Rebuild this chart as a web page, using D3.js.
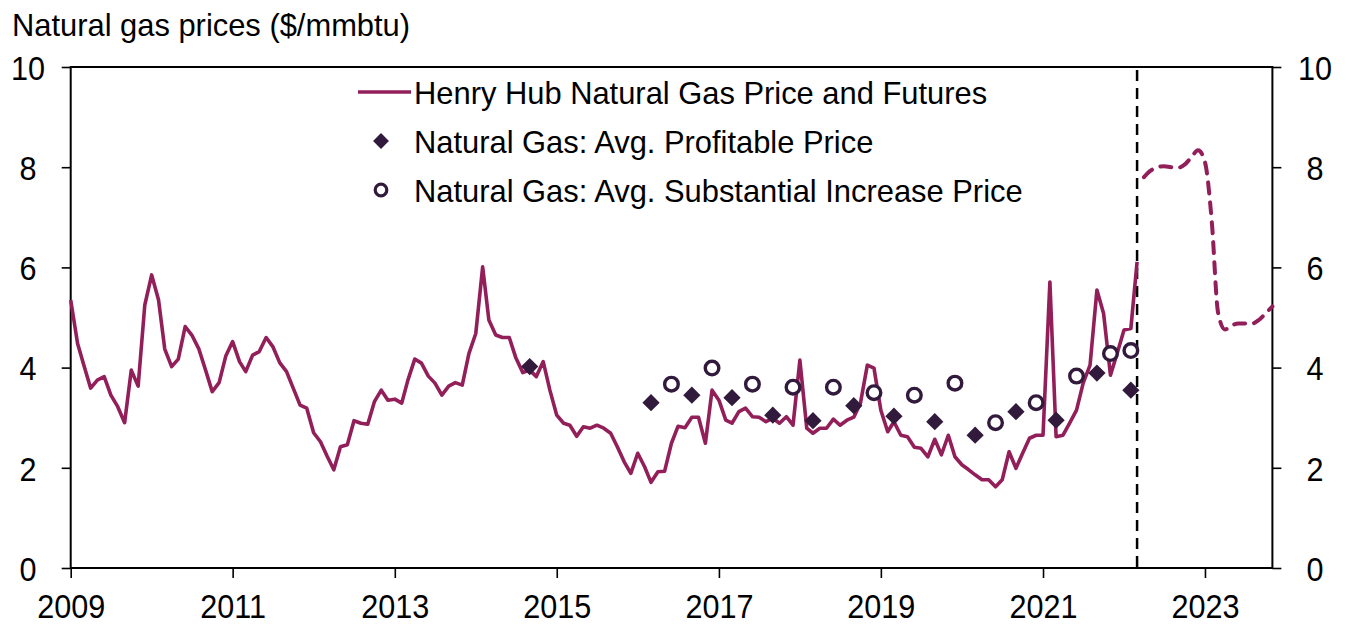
<!DOCTYPE html>
<html>
<head>
<meta charset="utf-8">
<script src="https://cdn.jsdelivr.net/npm/d3@7"></script>
<style>
  body { margin: 0; background: #fff; }
  svg text { font-family: "Liberation Sans", Arial, sans-serif; fill: #000; }
</style>
</head>
<body>
<svg id="chart"></svg>
<script>
const width = 1352;
const height = 631;
const plotLeft = 70.7, plotRight = 1272.4, plotTop = 67, plotBottom = 568;

const lineColor = '#921f59';
const markColor = '#321a3c';

// Henry Hub monthly price, Jan 2009 .. Mar 2022
const priceStart = [2009, 0];
const prices = [
  5.35, 4.48, 4.05, 3.59, 3.75, 3.82, 3.45, 3.22, 2.90, 3.95, 3.63, 5.25,
  5.85, 5.35, 4.37, 4.02, 4.17, 4.82, 4.65, 4.38, 3.95, 3.52, 3.70, 4.23,
  4.52, 4.12, 3.92, 4.25, 4.32, 4.60, 4.42, 4.10, 3.92, 3.59, 3.25, 3.19,
  2.70, 2.52, 2.24, 1.96, 2.42, 2.46, 2.94, 2.89, 2.87, 3.32, 3.55, 3.35,
  3.37, 3.29, 3.75, 4.17, 4.09, 3.83, 3.69, 3.45, 3.63, 3.70, 3.65, 4.28,
  4.68, 6.01, 4.95, 4.65, 4.60, 4.60, 4.19, 3.90, 3.95, 3.82, 4.12, 3.55,
  3.05, 2.89, 2.85, 2.63, 2.82, 2.79, 2.85, 2.79, 2.69, 2.42, 2.12, 1.89,
  2.29, 2.02, 1.71, 1.92, 1.93, 2.49, 2.83, 2.80, 3.01, 3.01, 2.49, 3.55,
  3.35, 2.95, 2.89, 3.12, 3.19, 3.02, 3.01, 2.92, 2.99, 2.89, 3.02, 2.85,
  4.15, 2.79, 2.69, 2.79, 2.79, 2.97, 2.85, 2.95, 3.01, 3.29, 4.05, 3.99,
  3.15, 2.72, 2.92, 2.65, 2.62, 2.41, 2.39, 2.22, 2.57, 2.26, 2.65, 2.22,
  2.06, 1.96, 1.86, 1.76, 1.76, 1.62, 1.76, 2.32, 1.99, 2.29, 2.59, 2.65,
  2.65, 5.71, 2.62, 2.65, 2.89, 3.15, 3.69, 4.05, 5.55, 5.08, 3.85, 4.28,
  4.75, 4.78, 6.11
];

// futures curve, Apr 2022 .. Nov 2023
const futuresStart = [2022, 3];
const futures = [
  7.80, 7.93, 8.00, 8.02, 8.00, 7.99, 8.05, 8.20, 8.34,
  8.10, 6.90, 5.10, 4.76, 4.84, 4.88, 4.88, 4.88, 4.95, 5.08, 5.22
];

const profitDates = ['2014-09', '2016-03', '2016-09', '2017-03', '2017-09', '2018-03', '2018-09',
  '2019-03', '2019-09', '2020-03', '2020-09', '2021-03', '2021-09', '2022-02'];
const profitValues = [4.02, 3.30, 3.45, 3.40, 3.05, 2.94, 3.24, 3.03, 2.92, 2.65, 3.12, 2.95, 3.89, 3.55];

const increaseDates = ['2016-06', '2016-12', '2017-06', '2017-12', '2018-06', '2018-12', '2019-06',
  '2019-12', '2020-06', '2020-12', '2021-06', '2021-11', '2022-02'];
const increaseValues = [3.67, 3.99, 3.67, 3.61, 3.61, 3.50, 3.45, 3.69, 2.90, 3.30, 3.83, 4.28, 4.34];

const yTicks = [0, 2, 4, 6, 8, 10];
const xTickYears = [2009, 2011, 2013, 2015, 2017, 2019, 2021, 2023];
const cutDate = '2022-03';

const legendItems = [
  'Henry Hub Natural Gas Price and Futures',
  'Natural Gas: Avg. Profitable Price',
  'Natural Gas: Avg. Substantial Increase Price'
];

const parseMonth = d3.timeParse('%Y-%m');
const monthly = (start, values) => values.map((v, i) => ({date: new Date(start[0], start[1] + i, 1), value: v}));
const pair = (dates, values) => dates.map((d, i) => ({date: parseMonth(d), value: values[i]}));

const priceData = monthly(priceStart, prices);
const futuresData = monthly(futuresStart, futures);
const profitData = pair(profitDates, profitValues);
const increaseData = pair(increaseDates, increaseValues);

const svg = d3.select('#chart').attr('width', width).attr('height', height);

const x = d3.scaleTime().domain([new Date(2009, 0, 1), new Date(2023, 10, 1)]).range([plotLeft, plotRight]);
const y = d3.scaleLinear().domain([0, 10]).range([plotBottom, plotTop]);

// the source font is a little narrower than Arial, so squeeze text horizontally
const tickSqueeze = 0.9;
const textSqueeze = 0.965;

// title
svg.append('text')
  .attr('x', 12 / textSqueeze).attr('y', 36)
  .attr('transform', `scale(${textSqueeze},1)`)
  .style('font-size', '32px')
  .text('Natural gas prices ($/mmbtu)');

// frame
svg.append('rect')
  .attr('x', plotLeft).attr('y', plotTop)
  .attr('width', plotRight - plotLeft).attr('height', plotBottom - plotTop)
  .attr('fill', 'none').attr('stroke', '#000').attr('stroke-width', 2);

// axes
const yLeft = svg.append('g').attr('transform', `translate(${plotLeft},0)`)
  .call(d3.axisLeft(y).tickValues(yTicks).tickSize(9).tickPadding(0).tickFormat(d3.format('d')));
const yRight = svg.append('g').attr('transform', `translate(${plotRight},0)`)
  .call(d3.axisRight(y).tickValues(yTicks).tickSize(9).tickPadding(0).tickFormat(d3.format('d')));
const xAxis = svg.append('g').attr('transform', `translate(0,${plotBottom})`)
  .call(d3.axisBottom(x).tickValues(xTickYears.map(yr => new Date(yr, 0, 1)))
    .tickSize(10).tickFormat(d3.timeFormat('%Y')));

[yLeft, yRight, xAxis].forEach(g => {
  g.select('.domain').remove();
  g.selectAll('line').attr('stroke', '#000').attr('stroke-width', 1.6);
  g.selectAll('text')
    .style('font-size', '34px')
    .attr('font-family', null)
    .attr('transform', `scale(${tickSqueeze},1)`);
});
yLeft.selectAll('text').attr('text-anchor', 'middle').attr('x', (28 - plotLeft) / tickSqueeze).attr('dy', '0.36em');
yRight.selectAll('text').attr('text-anchor', 'middle').attr('x', (1315 - plotRight) / tickSqueeze).attr('dy', '0.36em');
xAxis.selectAll('text').attr('y', 26).attr('dy', '0.71em');

// cut-off line between history and futures
svg.append('line')
  .attr('x1', x(parseMonth(cutDate))).attr('x2', x(parseMonth(cutDate)))
  .attr('y1', plotTop + 3).attr('y2', plotBottom)
  .attr('stroke', '#000').attr('stroke-width', 2.5)
  .attr('stroke-dasharray', '11,7');

const line = d3.line().x(d => x(d.date)).y(d => y(d.value));

svg.append('path')
  .datum(priceData)
  .attr('d', line)
  .attr('fill', 'none')
  .attr('stroke', lineColor)
  .attr('stroke-width', 3.6)
  .attr('stroke-linejoin', 'round');

svg.append('path')
  .datum(futuresData)
  .attr('d', line.curve(d3.curveMonotoneX))
  .attr('fill', 'none')
  .attr('stroke', lineColor)
  .attr('stroke-width', 4)
  .attr('stroke-linecap', 'round')
  .attr('stroke-dasharray', '11,9');

const diamond = d3.symbol().type(d3.symbolDiamond2).size(190);

svg.selectAll('.profit')
  .data(profitData)
  .enter()
  .append('path')
  .attr('class', 'profit')
  .attr('transform', d => `translate(${x(d.date)},${y(d.value)})`)
  .attr('d', diamond)
  .attr('fill', markColor);

svg.selectAll('.increase')
  .data(increaseData)
  .enter()
  .append('circle')
  .attr('class', 'increase')
  .attr('cx', d => x(d.date))
  .attr('cy', d => y(d.value))
  .attr('r', 6.8)
  .attr('fill', '#fff')
  .attr('stroke', markColor)
  .attr('stroke-width', 3.4);

// legend
const legend = svg.append('g').attr('transform', 'translate(358,92)');
legend.append('line')
  .attr('x1', 0).attr('x2', 53).attr('y1', 0).attr('y2', 0)
  .attr('stroke', lineColor).attr('stroke-width', 3.5);
legend.append('path')
  .attr('transform', 'translate(23,49)')
  .attr('d', d3.symbol().type(d3.symbolDiamond2).size(160))
  .attr('fill', markColor);
legend.append('circle')
  .attr('cx', 23).attr('cy', 98).attr('r', 5.8)
  .attr('fill', '#fff').attr('stroke', markColor).attr('stroke-width', 3.2);
legend.selectAll('.legend-text')
  .data(legendItems)
  .enter()
  .append('text')
  .attr('class', 'legend-text')
  .attr('x', 56 / textSqueeze)
  .attr('y', (d, i) => i * 49)
  .attr('dy', '0.36em')
  .attr('transform', `scale(${textSqueeze},1)`)
  .style('font-size', '32px')
  .text(d => d);
</script>
</body>
</html>
